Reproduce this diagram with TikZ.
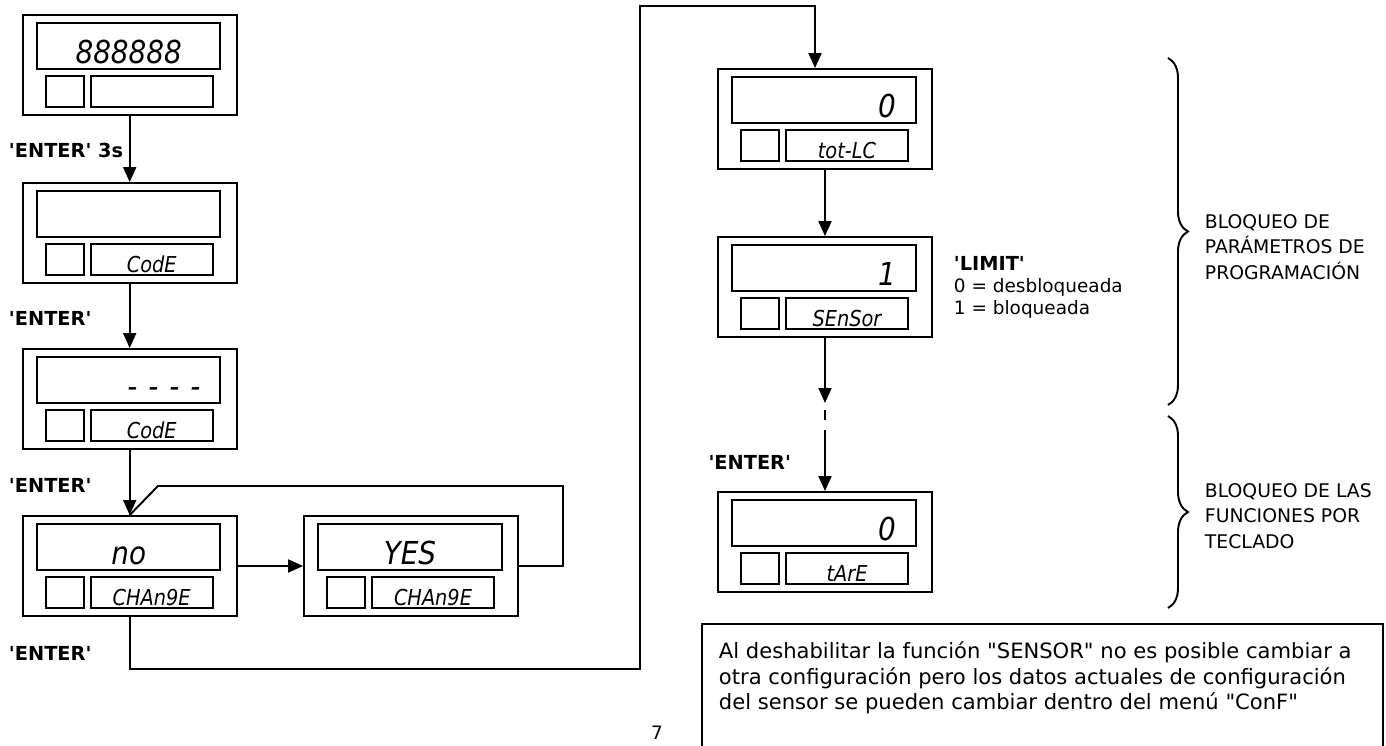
\documentclass[tikz,border=0pt]{standalone}
\usepackage{fontspec}
\setmainfont{DejaVu Sans}
\newfontfamily\segfont{DejaVu Sans}[FakeStretch=0.88]
\usetikzlibrary{arrows.meta, calc, decorations.pathreplacing}

% one meter face: name, left, top, display text, alignment, lower tag
\newcommand{\meterpanel}[6]{%
  \node[panel] (#1) at (#2+107,#3+50) {};
  \node[window, align=#5] (#1-top) at (#2+106,#3+31) {#4};
  \node[keywin] (#1-key) at (#2+42,#3+76.5) {};
  \node[tagwin] (#1-tag) at (#2+129,#3+76.5) {#6};
}

\begin{document}
\begin{tikzpicture}[x=0.02cm, y=-0.02cm, line width=1.1pt,
    panel/.style={draw, minimum width=4.28cm, minimum height=2cm, inner sep=0},
    window/.style={draw, inner ysep=0.11cm, inner xsep=0.4cm, text width=2.87cm,
        text height=0.7cm, text depth=0cm, font=\segfont\itshape\fontsize{18}{18}\selectfont},
    tagwin/.style={draw, inner ysep=0.05cm, inner xsep=0.1cm, text width=2.24cm,
        text height=0.52cm, text depth=0cm, align=center,
        font=\segfont\itshape\fontsize{12.5}{12.5}\selectfont},
    keywin/.style={draw, minimum width=0.76cm, minimum height=0.62cm, inner sep=0},
    arr/.style={-{Triangle[length=0.3cm, width=0.26cm]}},
    keylbl/.style={font=\bfseries\fontsize{11}{12}\selectfont, anchor=west, inner sep=0},
    note/.style={font=\fontsize{10}{12}\selectfont, inner sep=0},
    brace/.style={decorate, decoration={brace, amplitude=0.4cm}}]
\useasboundingbox (0,0) rectangle (1386,746);

% left column
\meterpanel{start}{22.7}{15}{888888}{center}{}
\meterpanel{code}{22.7}{183}{}{center}{CodE}
\meterpanel{pass}{22.7}{349}{-\hspace{0.22cm}-\hspace{0.22cm}-\hspace{0.22cm}-\hspace*{0.22cm}}{right}{CodE}
\meterpanel{no}{22.7}{516}{no}{center}{CHAn9E}
\meterpanel{yes}{304}{516}{YES}{center}{CHAn9E}

% right column
\meterpanel{totlc}{718}{69}{0}{right}{tot-LC}
\meterpanel{sensor}{718}{237}{1}{right}{SEnSor}
\meterpanel{tare}{718}{492}{0}{right}{tArE}

\draw[arr] (start) -- (code);
\draw[arr] (code) -- (pass);
\draw[arr] (pass) -- (no);
\draw[arr] (no) -- (yes);

% back from YES to no
\coordinate (loopR) at (563,486);
\coordinate (loopL) at (158,486);
\draw (yes.east) -| (loopR) -- (loopL) -- (no.north);

% over to the right column
\coordinate (botR) at (640,669);
\coordinate (topR) at (640,6);
\coordinate (topL) at (815,6);
\draw[arr] (no.south) |- (botR) -- (topR) -- (topL) -- (topL |- totlc.north);

\draw[arr] (totlc) -- (sensor);
\coordinate (gapA) at (825,403);
\coordinate (gapB) at (825,440);
\draw[arr] (sensor) -- (gapA);
\draw[dash pattern=on 0.2cm off 0.2cm, dash phase=0.26cm] (gapA) -- (gapB);
\draw[arr] (gapB) -- (tare);

\node[keylbl] (enter3s) at (8,150) {\textquotesingle ENTER\textquotesingle{} 3s};
\node[keylbl] (enter1) at (8,318) {\textquotesingle ENTER\textquotesingle};
\node[keylbl] (enter2) at (8,485) {\textquotesingle ENTER\textquotesingle};
\node[keylbl] (enter3) at (8,653) {\textquotesingle ENTER\textquotesingle};
\node[keylbl, anchor=east] (enter4) at (792,462) {\textquotesingle ENTER\textquotesingle};

\node[note, anchor=base west, font=\bfseries\fontsize{11}{12}\selectfont] (limit) at (953,271) {\textquotesingle LIMIT\textquotesingle};
\node[note, anchor=base west, font=\fontsize{10.5}{12}\selectfont] (unlocked) at (953,293) {0 = desbloqueada};
\node[note, anchor=base west, font=\fontsize{10.5}{12}\selectfont] (locked) at (953,315) {1 = bloqueada};

% the two groups
\draw[brace] (1168,58) -- (1168,405);
\draw[brace] (1168,416) -- (1168,608);
\node[note, anchor=west, align=left, font=\fontsize{10.7}{14.7}\selectfont] (progblock) at (1204,247)
    {BLOQUEO DE\\PARÁMETROS DE\\PROGRAMACIÓN};
\node[note, anchor=west, align=left, font=\fontsize{10.7}{14.7}\selectfont] (keyblock) at (1204,516)
    {BLOQUEO DE LAS\\FUNCIONES POR\\TECLADO};

% remark
\draw (702,750) -- (702,624) -- (1383,624) -- (1383,750);
\node[note, anchor=north west, align=left, font=\fontsize{12}{14.5}\selectfont] (remark) at (718,641)
    {Al deshabilitar la función \textquotedbl SENSOR\textquotedbl{} no es posible cambiar a\\
     otra configuración pero los datos actuales de configuración\\
     del sensor se pueden cambiar dentro del menú \textquotedbl ConF\textquotedbl};

\node[note, font=\fontsize{10.5}{12}\selectfont] (pagenum) at (657,733) {7};
\end{tikzpicture}
\end{document}
